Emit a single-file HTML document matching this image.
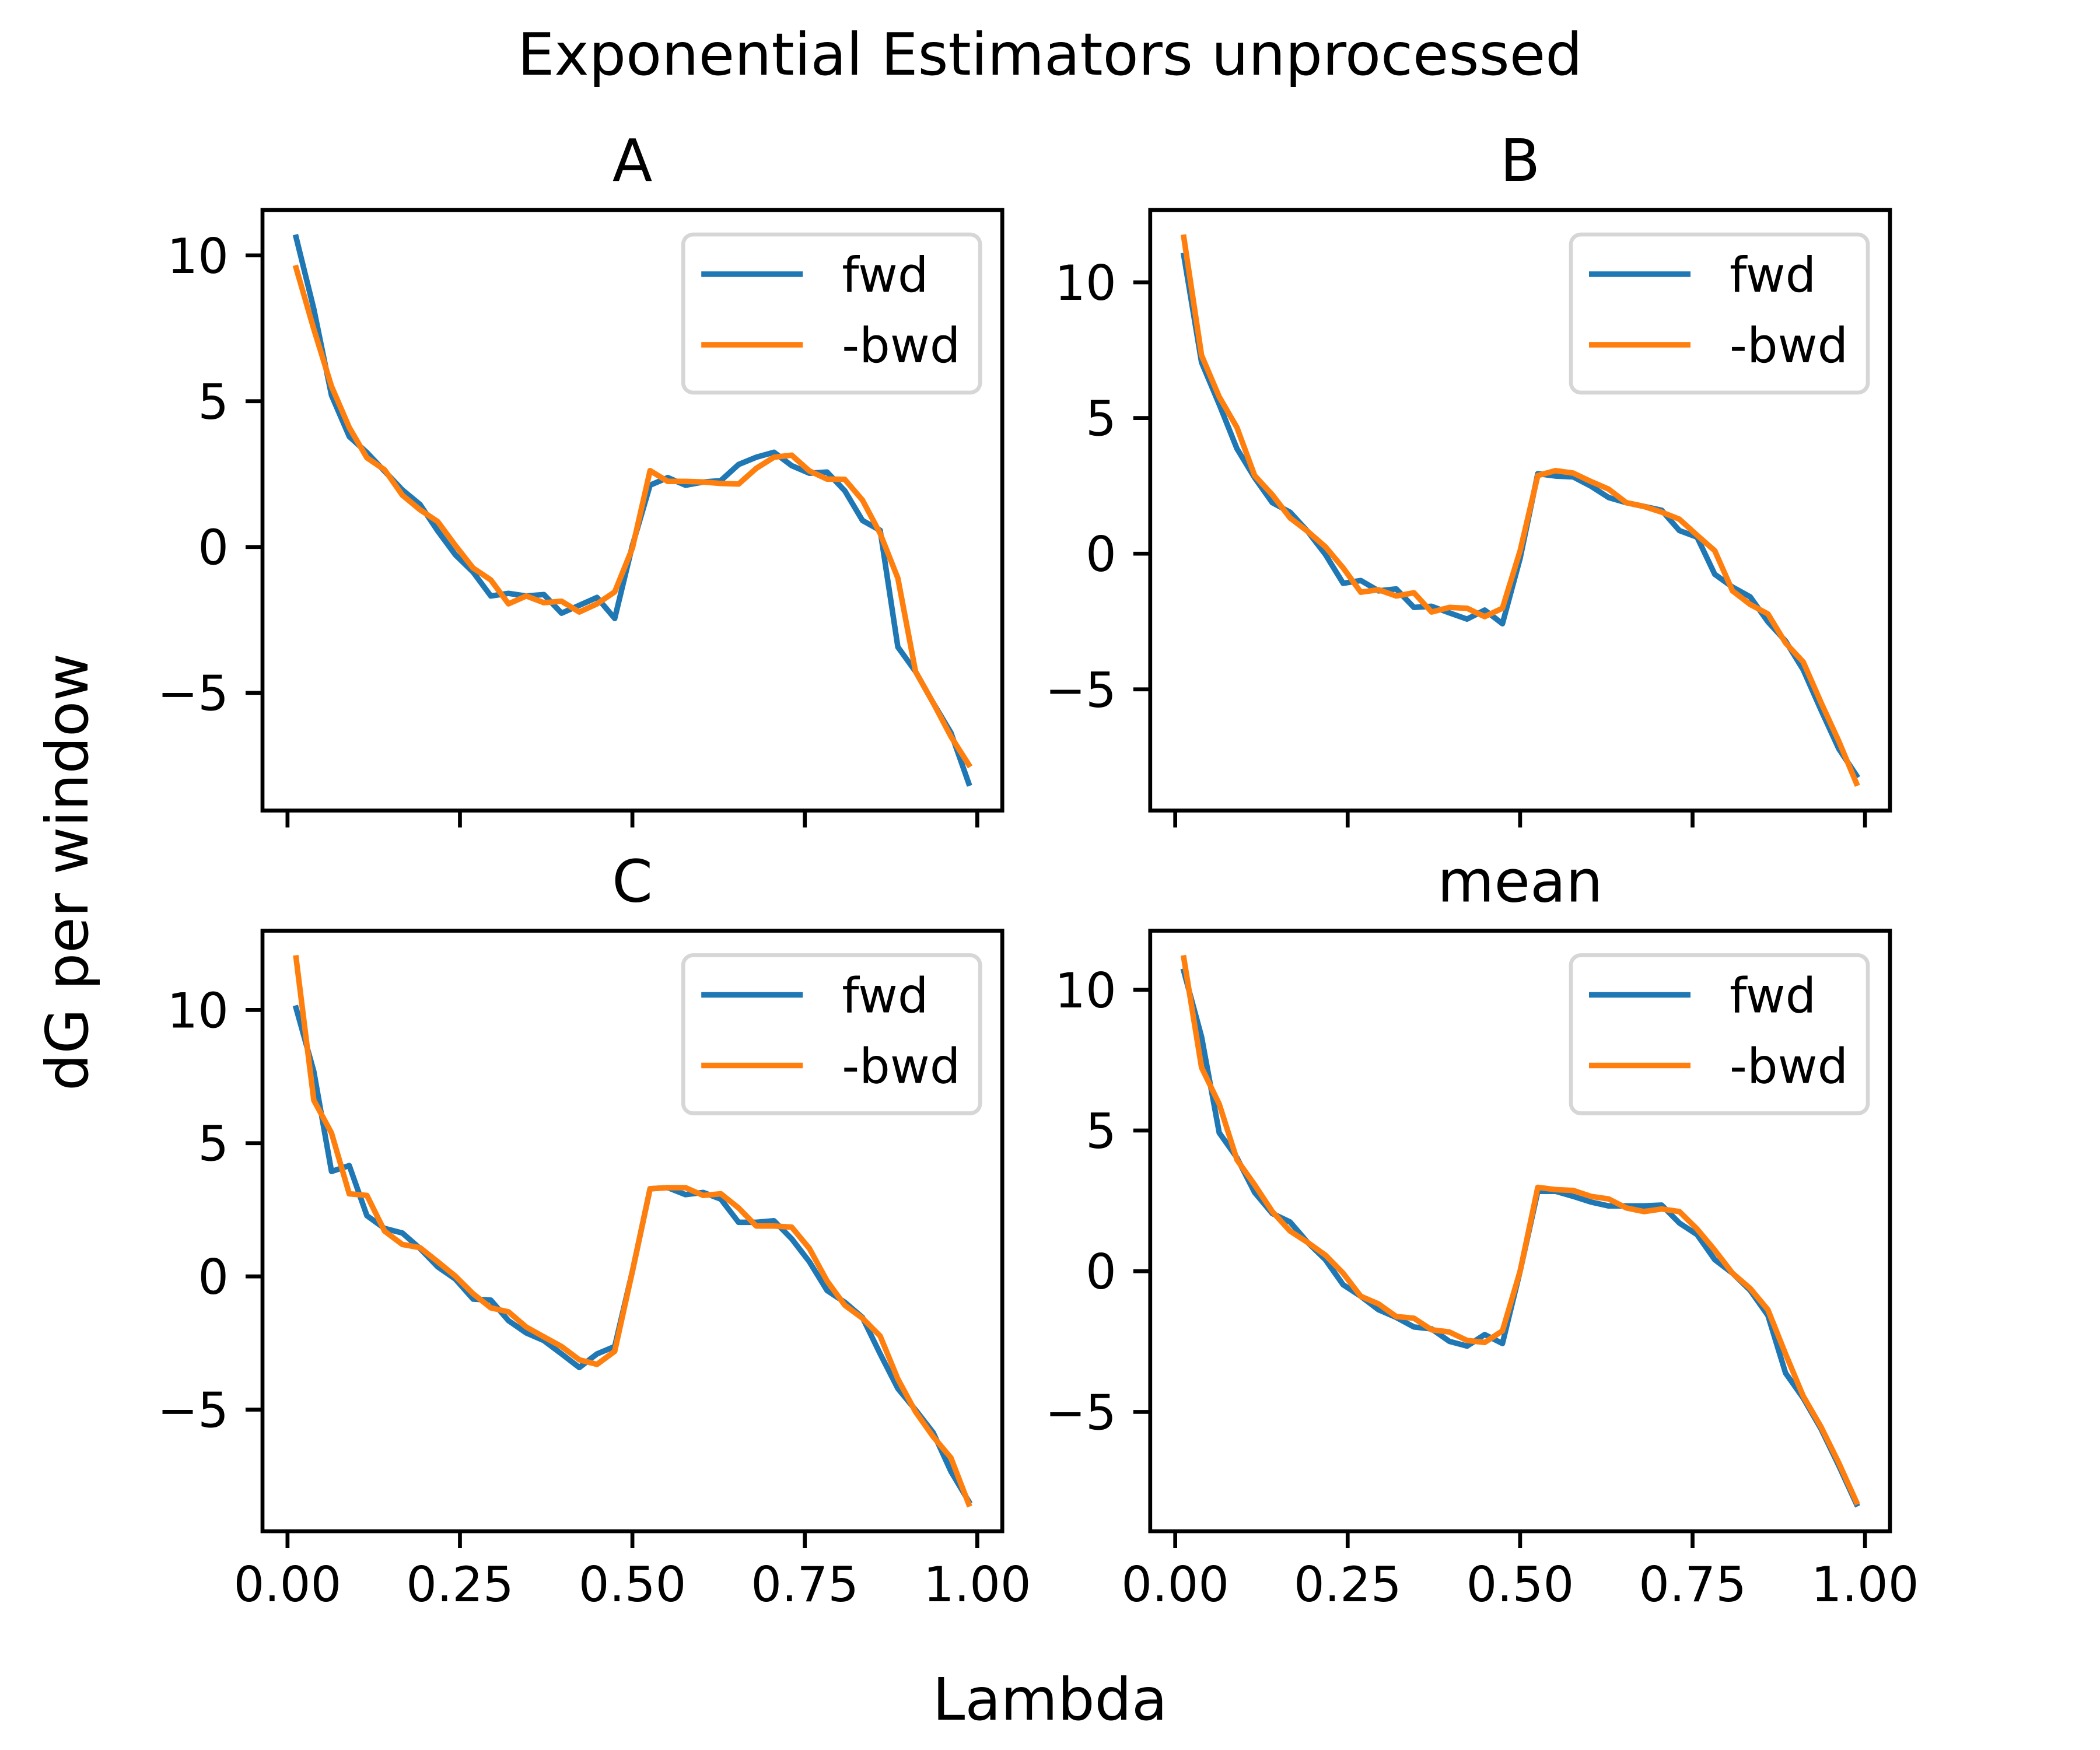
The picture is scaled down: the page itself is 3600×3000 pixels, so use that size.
<!DOCTYPE html>
<html>
<head>
<meta charset="utf-8">
<style>
  html, body { margin: 0; padding: 0; background: #ffffff; }
  svg { display: block; font-family: "DejaVu Sans", "Liberation Sans", sans-serif; }
</style>
</head>
<body>
<svg id="fig" xmlns="http://www.w3.org/2000/svg" width="3600" height="3000" viewBox="0 0 3600 3000">
  <rect x="0" y="0" width="3600" height="3000" fill="#ffffff"/>
  <text x="1800" y="128" text-anchor="middle" font-size="100" fill="#000">Exponential Estimators unprocessed</text>
  <text x="1800" y="2948" text-anchor="middle" font-size="100" fill="#000">Lambda</text>
  <text x="0" y="0" transform="translate(150,1495) rotate(-90)" text-anchor="middle" font-size="100" fill="#000">dG per window</text>
</svg>
<script>
// ---- data ----
const nPoints = 39;
const lambdaStart = 0.0125;
const lambdaEnd = 0.9875;
const panelTitles = ["A", "B", "C", "mean"];
const seriesLabels = ["fwd", "-bwd"];
const xTicks = [0.00, 0.25, 0.50, 0.75, 1.00];
const xTickLabels = ["0.00", "0.25", "0.50", "0.75", "1.00"];
const yTicks = [-5, 0, 5, 10];
const yTickLabels = ["\u22125", "0", "5", "10"];

const fwdA = [10.62,8.16,5.20,3.79,3.24,2.60,1.96,1.46,0.55,-0.27,-0.86,-1.68,-1.59,-1.68,-1.63,-2.27,-2.00,-1.73,-2.45,0.05,2.12,2.38,2.12,2.23,2.28,2.83,3.08,3.25,2.79,2.53,2.57,1.93,0.91,0.57,-3.43,-4.27,-5.35,-6.37,-8.10];
const bwdA = [9.57,7.47,5.51,4.10,3.06,2.65,1.78,1.28,0.87,0.05,-0.72,-1.13,-1.95,-1.68,-1.91,-1.86,-2.23,-1.95,-1.54,-0.04,2.62,2.25,2.25,2.23,2.18,2.16,2.70,3.08,3.15,2.61,2.33,2.32,1.61,0.46,-1.07,-4.27,-5.35,-6.50,-7.46];
const fwdB = [10.99,7.05,5.50,3.87,2.80,1.88,1.53,0.82,-0.03,-1.09,-0.99,-1.37,-1.30,-1.98,-1.94,-2.18,-2.41,-2.08,-2.58,-0.17,2.95,2.86,2.83,2.49,2.07,1.88,1.74,1.60,0.85,0.61,-0.76,-1.23,-1.59,-2.51,-3.22,-4.28,-5.76,-7.18,-8.17];
const bwdB = [11.66,7.31,5.78,4.65,2.88,2.17,1.32,0.82,0.25,-0.52,-1.42,-1.33,-1.56,-1.44,-2.15,-1.98,-2.01,-2.32,-2.01,0.11,2.88,3.06,2.97,2.66,2.38,1.88,1.74,1.53,1.27,0.68,0.11,-1.37,-1.87,-2.22,-3.29,-3.99,-5.48,-6.90,-8.46];
const fwdC = [10.07,7.69,3.94,4.16,2.28,1.80,1.63,1.05,0.36,-0.10,-0.85,-0.89,-1.66,-2.12,-2.41,-2.91,-3.42,-2.91,-2.63,0.19,3.29,3.33,3.07,3.15,2.90,2.03,2.03,2.09,1.41,0.55,-0.53,-0.97,-1.54,-2.91,-4.21,-5.01,-5.87,-7.32,-8.44];
const bwdC = [11.95,6.61,5.38,3.10,3.04,1.70,1.20,1.08,0.55,0.01,-0.65,-1.18,-1.33,-1.90,-2.27,-2.63,-3.13,-3.30,-2.81,0.19,3.29,3.33,3.33,3.04,3.10,2.57,1.89,1.89,1.85,1.05,-0.17,-1.08,-1.57,-2.24,-3.85,-5.08,-6.02,-6.81,-8.54];
const fwdD = [10.66,8.33,4.92,4.03,2.80,2.05,1.75,1.02,0.41,-0.48,-0.89,-1.37,-1.64,-1.98,-2.05,-2.49,-2.66,-2.25,-2.57,0.00,2.84,2.84,2.66,2.46,2.32,2.32,2.32,2.35,1.71,1.30,0.41,-0.07,-0.68,-1.57,-3.62,-4.51,-5.60,-6.90,-8.27];
const bwdD = [11.13,7.24,5.94,3.96,3.07,2.12,1.43,1.02,0.57,-0.07,-0.89,-1.16,-1.61,-1.67,-2.08,-2.16,-2.46,-2.53,-2.12,0.00,2.98,2.90,2.87,2.66,2.57,2.25,2.12,2.21,2.12,1.50,0.75,-0.07,-0.61,-1.37,-2.94,-4.44,-5.53,-6.80,-8.20];

const fwdSeries = [fwdA, fwdB, fwdC, fwdD];
const bwdSeries = [bwdA, bwdB, bwdC, bwdD];

// ---- layout ----
const NS = "http://www.w3.org/2000/svg";
const svg = document.getElementById("fig");
const axW = 1268.2, axH = 1029.5;
const axLefts = [450, 1971.8];
const axTops = [360, 1595.5];
const colors = ["#1f77b4", "#ff7f0e"];
const lambdas = [];
for (let i = 0; i < nPoints; i++) lambdas.push(lambdaStart + (lambdaEnd - lambdaStart) * i / (nPoints - 1));

function mk(tag, attrs, parent) {
  const e = document.createElementNS(NS, tag);
  for (const k in attrs) e.setAttribute(k, attrs[k]);
  (parent || svg).appendChild(e);
  return e;
}

for (let p = 0; p < 4; p++) {
  const row = Math.floor(p / 2), col = p % 2;
  const L = axLefts[col], T = axTops[row], R = L + axW, B = T + axH;
  const g = mk("g", {});
  
  

  const xs0 = Math.min(...lambdas), xs1 = Math.max(...lambdas);
  const xm = (xs1 - xs0) * 0.05;
  const xmin = xs0 - xm, xmax = xs1 + xm;
  const all = fwdSeries[p].concat(bwdSeries[p]);
  const ys0 = Math.min(...all), ys1 = Math.max(...all);
  const ym = (ys1 - ys0) * 0.05;
  const ymin = ys0 - ym, ymax = ys1 + ym;
  const xScale = v => L + (v - xmin) / (xmax - xmin) * axW;
  const yScale = v => B - (v - ymin) / (ymax - ymin) * axH;

  [fwdSeries[p], bwdSeries[p]].forEach((vals, s) => {
    const d = vals.map((v, i) => (i ? "L" : "M") + xScale(lambdas[i]).toFixed(1) + "," + yScale(v).toFixed(1)).join(" ");
    const path = mk("path", { d: d, fill: "none", stroke: colors[s], "stroke-width": 9.5, "stroke-linejoin": "round", "stroke-linecap": "square" }, g);
    
    
  });

  const frame = mk("rect", { x: L, y: T, width: axW, height: axH, fill: "none", stroke: "#000", "stroke-width": 6.7 }, g);
  
  

  xTicks.forEach((t, k) => {
    const x = xScale(t);
    const tk = mk("line", { x1: x, y1: B, x2: x, y2: B + 29, stroke: "#000", "stroke-width": 6.7 }, g);
    
    
    if (row === 1) {
      const tl = mk("text", { x: x, y: B + 58 + 62, "text-anchor": "middle", "font-size": 83, fill: "#000" }, g);
      tl.textContent = xTickLabels[k];
      
      
    }
  });

  yTicks.forEach((t, k) => {
    if (t < ymin || t > ymax) return;
    const y = yScale(t);
    const tk = mk("line", { x1: L - 29, y1: y, x2: L, y2: y, stroke: "#000", "stroke-width": 6.7 }, g);
    
    
    const tl = mk("text", { x: L - 58, y: y + 30, "text-anchor": "end", "font-size": 83, fill: "#000" }, g);
    tl.textContent = yTickLabels[k];
    
    
  });

  const ti = mk("text", { x: L + axW / 2, y: T - 50, "text-anchor": "middle", "font-size": 100, fill: "#000" }, g);
  ti.textContent = panelTitles[p];
  
  

  const lg = mk("g", {}, g);
  
  
  const lb = mk("rect", { x: R - 547, y: T + 42, width: 509, height: 271, rx: 17, ry: 17, fill: "#ffffff", "fill-opacity": 0.8, stroke: "#d6d6d6", "stroke-width": 6.7 }, lg);
  
  
  seriesLabels.forEach((lab, s) => {
    const ly = T + 110 + s * 121;
    const ll = mk("line", { x1: R - 516, y1: ly, x2: R - 342, y2: ly, stroke: colors[s], "stroke-width": 9.5, "stroke-linecap": "butt" }, lg);
    
    
    const lt = mk("text", { x: R - 275, y: ly + 30, "font-size": 83, fill: "#000" }, lg);
    lt.textContent = lab;
    
    
  });
}
</script>
</body>
</html>
